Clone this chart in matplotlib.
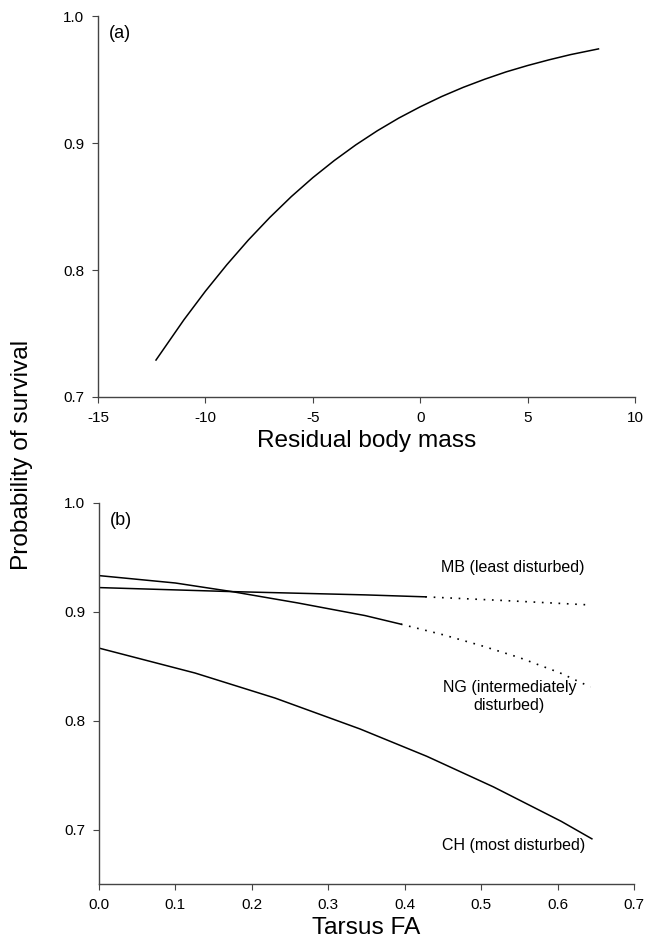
import matplotlib
matplotlib.use("Agg")
import matplotlib.pyplot as plt

plt.rcParams['font.family'] = ['Liberation Sans', 'DejaVu Sans']
plt.rcParams['axes.unicode_minus'] = False

# Panel (a): survival vs residual body mass
mass_x = [-12.3, -11, -10, -9, -8, -7, -6, -5, -4, -3, -2, -1, 0, 1, 2, 3, 4, 5, 6, 7, 8.3]
mass_p = [0.7291, 0.7608, 0.7833, 0.8042, 0.8236, 0.8414, 0.8578, 0.8727, 0.8862, 0.8985,
          0.9096, 0.9196, 0.9285, 0.9366, 0.9438, 0.9502, 0.9560, 0.9610, 0.9655, 0.9696, 0.9741]

# Panel (b): survival vs tarsus FA per site
mb_x_solid = [0.0, 0.174, 0.348, 0.427]
mb_p_solid = [0.9223, 0.9186, 0.9156, 0.9138]
mb_x_dot = [0.427, 0.53, 0.641]
mb_p_dot = [0.9138, 0.9104, 0.9064]

ng_x_solid = [0.0, 0.1, 0.174, 0.26, 0.348, 0.395]
ng_p_solid = [0.9333, 0.9265, 0.9186, 0.9082, 0.8966, 0.8887]
ng_x_dot = [0.395, 0.45, 0.5, 0.55, 0.603, 0.643]
ng_p_dot = [0.8887, 0.879, 0.869, 0.858, 0.844, 0.831]

ch_x = [0.0, 0.1257, 0.2304, 0.3416, 0.4289, 0.5161, 0.6047, 0.6449]
ch_p = [0.8667, 0.8438, 0.8208, 0.7924, 0.7673, 0.7392, 0.7076, 0.6915]

labels_b = ["MB (least disturbed)", "NG (intermediately\ndisturbed)", "CH (most disturbed)"]

fig = plt.figure(figsize=(6.45, 9.44), dpi=100)
W, H = 645, 944
ax1 = fig.add_axes([98 / W, 1 - 397 / H, 537 / W, 381 / H])
ax2 = fig.add_axes([99 / W, 1 - 884 / H, 535 / W, 381 / H])

for ax in (ax1, ax2):
    for s in ('top', 'right'):
        ax.spines[s].set_visible(False)
    for s in ('left', 'bottom'):
        ax.spines[s].set_color('#444444')
        ax.spines[s].set_linewidth(1.0)
    ax.tick_params(direction='out', length=4, width=0.8, color='#444444',
                   labelsize=11, pad=6)

ax1.plot(mass_x, mass_p, color='black', lw=1.1)
ax1.set_xlim(-15, 10)
ax1.set_ylim(0.7, 1.0)
ax1.set_xticks([-15, -10, -5, 0, 5, 10])
ax1.set_xticklabels(['-15', '-10', '-5', '0', '5', '10'])
ax1.set_yticks([0.7, 0.8, 0.9, 1.0])
ax1.set_yticklabels(['0.7', '0.8', '0.9', '1.0'])
ax1.set_xlabel('Residual body mass', fontsize=17.6, labelpad=4)
ax1.text(0.02, 0.955, '(a)', transform=ax1.transAxes, fontsize=13, va='center')

ax2.plot(mb_x_solid, mb_p_solid, color='black', lw=1.1)
ax2.plot(mb_x_dot, mb_p_dot, color='black', lw=1.2, ls=(0, (1, 4)))
ax2.plot(ng_x_solid, ng_p_solid, color='black', lw=1.1)
ax2.plot(ng_x_dot, ng_p_dot, color='black', lw=1.2, ls=(0, (1, 4)))
ax2.plot(ch_x, ch_p, color='black', lw=1.1)
ax2.set_xlim(0, 0.7)
ax2.set_ylim(0.65, 1.0)
ax2.set_xticks([0.0, 0.1, 0.2, 0.3, 0.4, 0.5, 0.6, 0.7])
ax2.set_xticklabels(['0.0', '0.1', '0.2', '0.3', '0.4', '0.5', '0.6', '0.7'])
ax2.set_yticks([0.7, 0.8, 0.9, 1.0])
ax2.set_yticklabels(['0.7', '0.8', '0.9', '1.0'])
ax2.set_xlabel('Tarsus FA', fontsize=17.6, labelpad=4)
ax2.text(0.02, 0.955, '(b)', transform=ax2.transAxes, fontsize=13, va='center')

ax2.text(0.542, 0.941, labels_b[0], fontsize=11.5, ha='center', va='center')
ax2.text(0.537, 0.8225, labels_b[1], fontsize=11.5, ha='center', va='center',
         linespacing=1.25)
ax2.text(0.542, 0.685, labels_b[2], fontsize=11.5, ha='center', va='center')

fig.text(22 / W, 1 - 455 / H, 'Probability of survival', rotation=90,
         fontsize=17.6, ha='center', va='center')

fig.savefig('out.png', dpi=100)
